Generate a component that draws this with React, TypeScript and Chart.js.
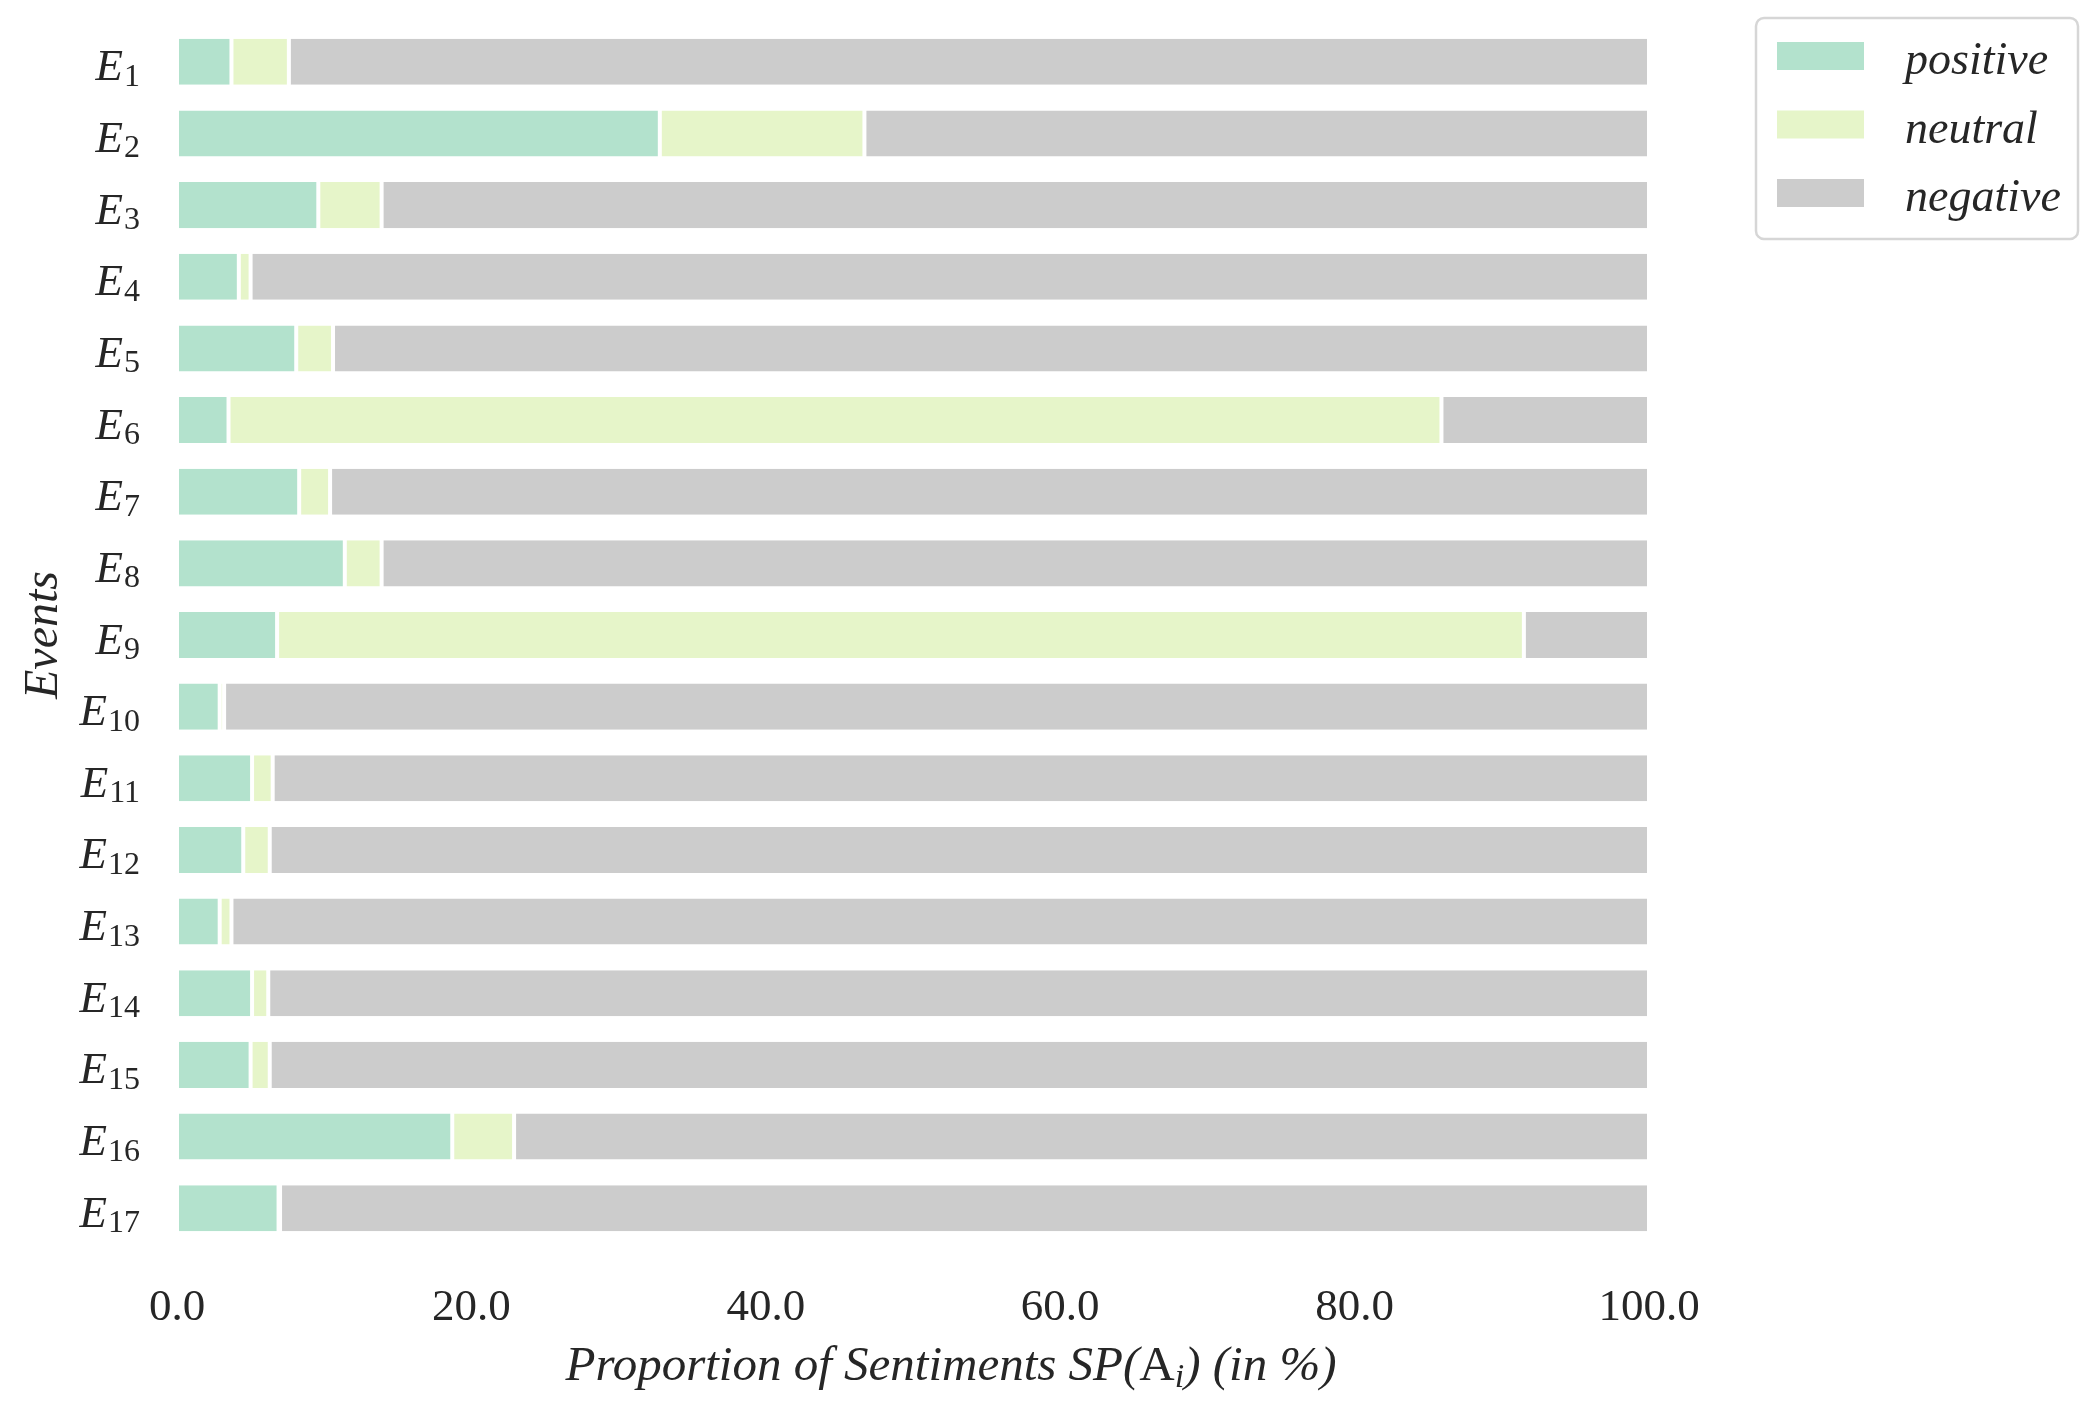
import React, { useEffect, useRef } from 'react';
import { Chart, registerables, Plugin } from 'chart.js';
Chart.register(...registerables);

const eventNumbers = ['1', '2', '3', '4', '5', '6', '7', '8', '9', '10', '11', '12', '13', '14', '15', '16', '17'];
const positive = [3.7, 32.8, 9.6, 4.2, 8.1, 3.5, 8.3, 11.4, 6.8, 2.9, 5.1, 4.5, 2.9, 5.1, 5.0, 18.7, 6.9];
const neutral = [3.9, 13.9, 4.3, 0.8, 2.5, 82.4, 2.1, 2.5, 84.7, 0.3, 1.4, 1.8, 0.8, 1.1, 1.3, 4.2, 0.1];
const negative = [92.4, 53.3, 86.1, 95.0, 89.4, 14.1, 89.6, 86.1, 8.5, 96.8, 93.5, 93.7, 96.3, 93.8, 93.7, 77.1, 93.0];
const seriesNames = ['positive', 'neutral', 'negative'];
const seriesColors = ['#b3e2cd', '#e6f5c9', '#cccccc'];
const xTicks = [0, 20, 40, 60, 80, 100];

const SERIF = '"Liberation Serif", "Times New Roman", serif';
const TEXT = '#262626';

// labels with subscripts, axis titles and the framed legend
const decorations: Plugin = {
  id: 'decorations',
  afterDraw(chart) {
    const ctx = chart.ctx;
    const y = chart.scales.y;
    const area = chart.chartArea;
    ctx.save();
    ctx.fillStyle = TEXT;
    ctx.textBaseline = 'alphabetic';

    // y tick labels: E_n
    eventNumbers.forEach((n, i) => {
      const cy = y.getPixelForTick(i);
      ctx.font = `32px ${SERIF}`;
      const subW = ctx.measureText(n).width;
      const right = 140;
      ctx.textAlign = 'right';
      ctx.fillText(n, right, cy + 24);
      ctx.font = `italic 45px ${SERIF}`;
      ctx.fillText('E', right - subW - 1, cy + 18.5);
    });

    // y title
    ctx.save();
    ctx.translate(57, (area.top + area.bottom) / 2);
    ctx.rotate(-Math.PI / 2);
    ctx.textAlign = 'center';
    ctx.font = `italic 48px ${SERIF}`;
    ctx.fillText('Events', 0, 0);
    ctx.restore();

    // x title with subscript i
    const parts: [string, string, number][] = [
      ['Proportion of Sentiments SP(', `italic 49px ${SERIF}`, 0],
      ['A', `49px ${SERIF}`, 0],
      ['i', `italic 34px ${SERIF}`, 7],
      [') (in %)', `italic 49px ${SERIF}`, 0],
    ];
    let total = 0;
    parts.forEach(([t, f]) => {
      ctx.font = f;
      total += ctx.measureText(t).width;
    });
    let x = 951 - total / 2;
    ctx.textAlign = 'left';
    parts.forEach(([t, f, dy]) => {
      ctx.font = f;
      ctx.fillText(t, x, 1380 + dy);
      x += ctx.measureText(t).width;
    });

    // legend
    const bx = 1756, by = 18, bw = 322, bh = 221, r = 8;
    ctx.beginPath();
    ctx.roundRect(bx, by, bw, bh, r);
    ctx.fillStyle = 'rgba(255,255,255,0.8)';
    ctx.fill();
    ctx.lineWidth = 2.5;
    ctx.strokeStyle = '#d6d6d6';
    ctx.stroke();
    seriesNames.forEach((name, i) => {
      const cy = 56 + i * 68.5;
      ctx.fillStyle = seriesColors[i];
      ctx.fillRect(1777, cy - 14, 87, 28);
      ctx.fillStyle = TEXT;
      ctx.font = `italic 46px ${SERIF}`;
      ctx.textAlign = 'left';
      ctx.fillText(name, 1905, cy + 18);
    });
    ctx.restore();
  },
};

const App: React.FC = () => {
  const canvasRef = useRef<HTMLCanvasElement>(null);
  const chartRef = useRef<Chart | null>(null);

  useEffect(() => {
    if (!canvasRef.current) return;
    const ctx = canvasRef.current.getContext('2d');
    if (!ctx) return;
    if (chartRef.current) chartRef.current.destroy();

    const values = [positive, neutral, negative];
    chartRef.current = new Chart(ctx, {
      type: 'bar',
      data: {
        labels: eventNumbers.map((n) => 'E' + n),
        datasets: seriesNames.map((name, i) => ({
          label: name,
          data: values[i],
          backgroundColor: seriesColors[i],
          borderColor: '#ffffff',
          borderWidth: { left: 2, right: 2, top: 0, bottom: 0 },
          borderSkipped: false,
          barPercentage: 0.643,
          categoryPercentage: 1,
        })),
      },
      options: {
        indexAxis: 'y',
        responsive: false,
        animation: false,
        devicePixelRatio: 1,
        layout: { padding: { top: 26, right: 448, left: 0, bottom: 0 } },
        plugins: {
          legend: { display: false },
          tooltip: { enabled: false },
        },
        scales: {
          x: {
            stacked: true,
            min: 0,
            max: 100,
            afterBuildTicks: (scale) => {
              scale.ticks = xTicks.map((v) => ({ value: v }));
            },
            afterFit: (scale) => {
              scale.height = 168;
            },
            grid: { display: false, drawTicks: false },
            border: { display: false },
            ticks: {
              autoSkip: false,
              maxRotation: 0,
              padding: 37,
              color: TEXT,
              font: { family: SERIF, size: 45 },
              callback: (v) => Number(v).toFixed(1),
            },
          },
          y: {
            stacked: true,
            afterFit: (scale) => {
              scale.width = 177;
            },
            grid: { display: false, drawTicks: false },
            border: { display: false },
            ticks: { display: false },
          },
        },
      },
      plugins: [decorations],
    });

    return () => {
      if (chartRef.current) {
        chartRef.current.destroy();
        chartRef.current = null;
      }
    };
  }, []);

  return (
    <div style={{ position: 'fixed', left: 0, top: 0, width: 2097, height: 1412, background: '#ffffff' }}>
      <canvas ref={canvasRef} width={2097} height={1412} style={{ width: 2097, height: 1412 }}></canvas>
    </div>
  );
};

export default App;
